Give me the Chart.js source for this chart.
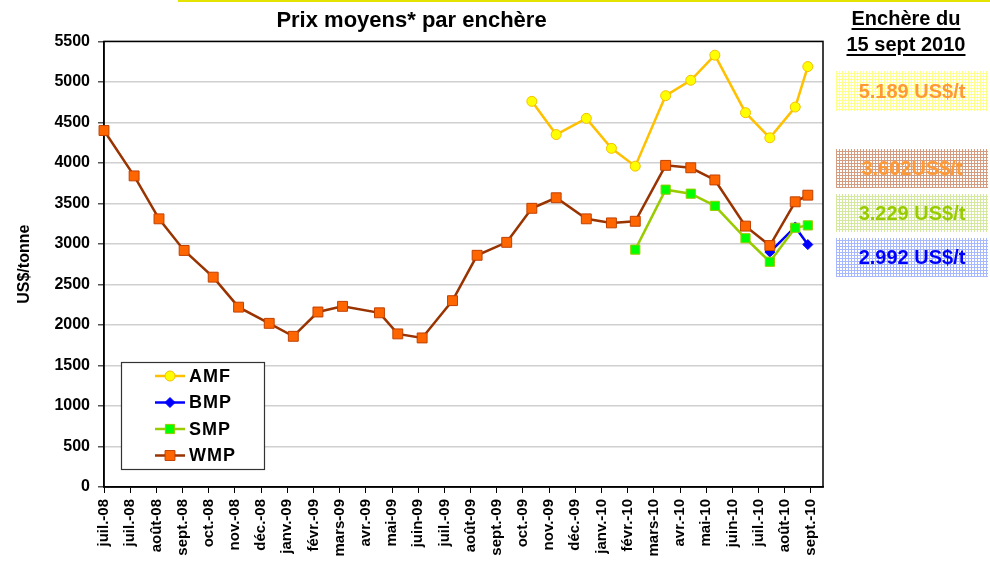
<!DOCTYPE html>
<html>
<head>
<meta charset="utf-8">
<script src="https://cdn.jsdelivr.net/npm/chart.js@4.4.1/dist/chart.umd.min.js"></script>
<style>
body{margin:0;background:#fff;width:990px;height:574px;position:relative;overflow:hidden;font-family:"Liberation Sans",Arial,sans-serif;}
#wrap{position:absolute;left:0;top:0;width:842px;height:574px;}
.topline{position:absolute;left:178px;top:0;width:812px;height:2px;background:#e4e400;}
.head{position:absolute;left:826px;top:5px;width:160px;text-align:center;font-weight:bold;font-size:20px;line-height:26px;}
.head span{text-decoration:underline;text-decoration-thickness:2px;text-underline-offset:3px;}
.box{position:absolute;left:836px;width:152px;font-weight:bold;font-size:20px;text-align:center;background-size:3px 3px;}
</style>
</head>
<body>
<div class="topline"></div>
<div id="wrap"><canvas id="myChart" width="842" height="574"></canvas></div>
<div class="head"><span>Enchère du</span><br><span>15 sept 2010</span></div>
<div class="box" style="top:71px;height:40px;line-height:40px;color:#ff9933;background-image:linear-gradient(90deg,#ffff90 1px,transparent 1px),linear-gradient(0deg,#ffff90 1px,transparent 1px);">5.189 US$/t</div>
<div class="box" style="top:149px;height:39px;line-height:39px;color:#ff9933;background-image:linear-gradient(90deg,#d49c80 1px,transparent 1px),linear-gradient(0deg,#d49c80 1px,transparent 1px);">3.602US$/t</div>
<div class="box" style="top:194px;height:38px;line-height:38px;color:#99cc00;background-image:linear-gradient(90deg,#d4e8a0 1px,transparent 1px),linear-gradient(0deg,#d4e8a0 1px,transparent 1px);">3.229 US$/t</div>
<div class="box" style="top:238px;height:39px;line-height:39px;color:#0000ff;background-image:linear-gradient(90deg,#a8b8ff 1px,transparent 1px),linear-gradient(0deg,#a8b8ff 1px,transparent 1px);">2.992 US$/t</div>
<script>
var tickLabels = ["juil.-08", "juil.-08", "août-08", "sept.-08", "oct.-08", "nov.-08", "déc.-08",
    "janv.-09", "févr.-09", "mars-09", "avr.-09", "mai-09", "juin-09", "juil.-09", "août-09",
    "sept.-09", "oct.-09", "nov.-09", "déc.-09", "janv.-10", "févr.-10", "mars-10", "avr.-10",
    "mai-10", "juin-10", "juil.-10", "août-10", "sept.-10"];

// auction dates, in months from the first tick
var auctionPos = [0, 1.15, 2.10, 3.06, 4.17, 5.14, 6.31, 7.23, 8.17, 9.11, 10.52, 11.22, 12.15, 13.31,
    14.25, 15.38, 16.34, 17.27, 18.42, 19.38, 20.29, 21.45, 22.41, 23.33, 24.50, 25.43, 26.40, 26.88];

var amf = [null, null, null, null, null, null, null, null, null, null, null, null, null, null, null, null,
    4760, 4350, 4550, 4180, 3960, 4830, 5020, 5330, 4620, 4310, 4690, 5189];
var bmp = [null, null, null, null, null, null, null, null, null, null, null, null, null, null, null, null,
    null, null, null, null, null, null, null, null, null, 2900, 3210, 2992];
var smp = [null, null, null, null, null, null, null, null, null, null, null, null, null, null, null, null,
    null, null, null, null, 2930, 3670, 3620, 3470, 3070, 2780, 3200, 3229];
var wmp = [4400, 3840, 3310, 2920, 2590, 2220, 2020, 1860, 2160, 2230, 2150, 1890, 1840, 2300,
    2860, 3020, 3440, 3570, 3310, 3260, 3280, 3970, 3940, 3790, 3220, 2980, 3520, 3602];

var legendOrder = ["AMF", "BMP", "SMP", "WMP"];
var FONT = '"Liberation Sans", Arial, sans-serif';

function points(values) {
    return values.map(function(v, i) { return {x: auctionPos[i], y: v}; })
                 .filter(function(p) { return p.y !== null; });
}

var frame = {
    id: 'frame',
    beforeDatasetsDraw: function(c) {
        var ctx = c.ctx, a = c.chartArea;
        ctx.save();
        ctx.strokeStyle = '#000';
        ctx.lineWidth = 1.5;
        ctx.strokeRect(a.left, a.top, a.right - a.left, a.bottom - a.top);
        ctx.restore();
    }
};

var boxLegend = {
    id: 'boxLegend',
    afterDraw: function(c) {
        var ctx = c.ctx, a = c.chartArea;
        var x0 = a.left + 17, y0 = a.bottom - 125;
        ctx.save();
        ctx.fillStyle = '#fff';
        ctx.fillRect(x0, y0, 143, 107);
        ctx.strokeStyle = '#333';
        ctx.lineWidth = 1.2;
        ctx.strokeRect(x0 + 0.5, y0 + 0.5, 143, 107);
        legendOrder.forEach(function(name, k) {
            var ds = c.data.datasets.filter(function(d) { return d.label === name; })[0];
            var y = y0 + 14 + k * 26.5;
            ctx.strokeStyle = ds.borderColor;
            ctx.lineWidth = ds.borderWidth;
            ctx.beginPath();
            ctx.moveTo(x0 + 34, y);
            ctx.lineTo(x0 + 64, y);
            ctx.stroke();
            ctx.fillStyle = ds.pointBackgroundColor;
            ctx.strokeStyle = ds.pointBorderColor;
            ctx.lineWidth = ds.pointBorderWidth;
            Chart.helpers.drawPoint(ctx, {pointStyle: ds.pointStyle, radius: ds.pointRadius,
                borderWidth: ds.pointBorderWidth, rotation: 0}, x0 + 49, y);
            ctx.fillStyle = '#000';
            ctx.font = 'bold 18px ' + FONT;
            ctx.letterSpacing = '1px';
            ctx.textBaseline = 'middle';
            ctx.textAlign = 'left';
            ctx.fillText(name, x0 + 68, y + 1);
        });
        ctx.restore();
    }
};

var ctx = document.getElementById("myChart");
var myChart = new Chart(ctx, {
    type: 'line',
    data: {
        datasets: [{
            label: "AMF",
            data: points(amf),
            borderColor: '#ffc000',
            borderWidth: 2.5,
            pointStyle: 'circle',
            pointRadius: 5,
            pointBackgroundColor: '#ffff00',
            pointBorderColor: '#f0c000',
            pointBorderWidth: 1,
            clip: 10,
            order: 4
        }, {
            label: "BMP",
            data: points(bmp),
            borderColor: '#0000ff',
            borderWidth: 2.5,
            pointStyle: 'rectRot',
            pointRadius: 5,
            pointBackgroundColor: '#0000ff',
            pointBorderColor: '#0000ff',
            pointBorderWidth: 1,
            clip: 10,
            order: 3
        }, {
            label: "SMP",
            data: points(smp),
            borderColor: '#99cc00',
            borderWidth: 2.5,
            pointStyle: 'rect',
            pointRadius: 6.5,
            pointBackgroundColor: '#00ff00',
            pointBorderColor: '#99cc00',
            pointBorderWidth: 1,
            clip: 10,
            order: 2
        }, {
            label: "WMP",
            data: points(wmp),
            borderColor: '#993300',
            borderWidth: 2.5,
            pointStyle: 'rect',
            pointRadius: 7,
            pointBackgroundColor: '#ff6600',
            pointBorderColor: '#c04000',
            pointBorderWidth: 1,
            clip: 10,
            order: 1
        }]
    },
    options: {
        responsive: false,
        animation: false,
        devicePixelRatio: 1,
        layout: {padding: {left: 0, right: 19, top: 0, bottom: 0}},
        plugins: {
            legend: {display: false},
            tooltip: {enabled: false},
            title: {
                display: true,
                text: 'Prix moyens* par enchère',
                color: '#000',
                font: {family: FONT, size: 22, weight: 'bold'},
                padding: {top: 8, bottom: 7}
            }
        },
        scales: {
            x: {
                type: 'linear',
                min: 0,
                max: 27.46,
                afterBuildTicks: function(s) {
                    s.ticks = tickLabels.map(function(l, i) { return {value: i}; });
                },
                afterFit: function(s) { s.height = 87; },
                ticks: {
                    autoSkip: false,
                    minRotation: 90,
                    maxRotation: 90,
                    padding: 6,
                    color: '#000',
                    font: {family: FONT, size: 15, weight: 'bold'},
                    callback: function(v) { return tickLabels[v]; }
                },
                grid: {drawOnChartArea: false, drawTicks: true, tickLength: 6, color: '#000'},
                border: {color: '#000', width: 1.5}
            },
            y: {
                min: 0,
                max: 5500,
                afterFit: function(s) { s.width = 104; },
                ticks: {
                    stepSize: 500,
                    padding: 8,
                    color: '#000',
                    font: {family: FONT, size: 16, weight: 'bold'},
                    callback: function(v) { return String(v); }
                },
                grid: {color: '#d0d0d0', lineWidth: 1.5, tickColor: '#555', tickLength: 6},
                border: {color: '#000', width: 1.5},
                title: {
                    display: true,
                    text: 'US$/tonne',
                    color: '#000',
                    font: {family: FONT, size: 16, weight: 'bold'},
                    padding: {top: 15, bottom: 0}
                }
            }
        }
    },
    plugins: [frame, boxLegend]
});
</script>
</body>
</html>
